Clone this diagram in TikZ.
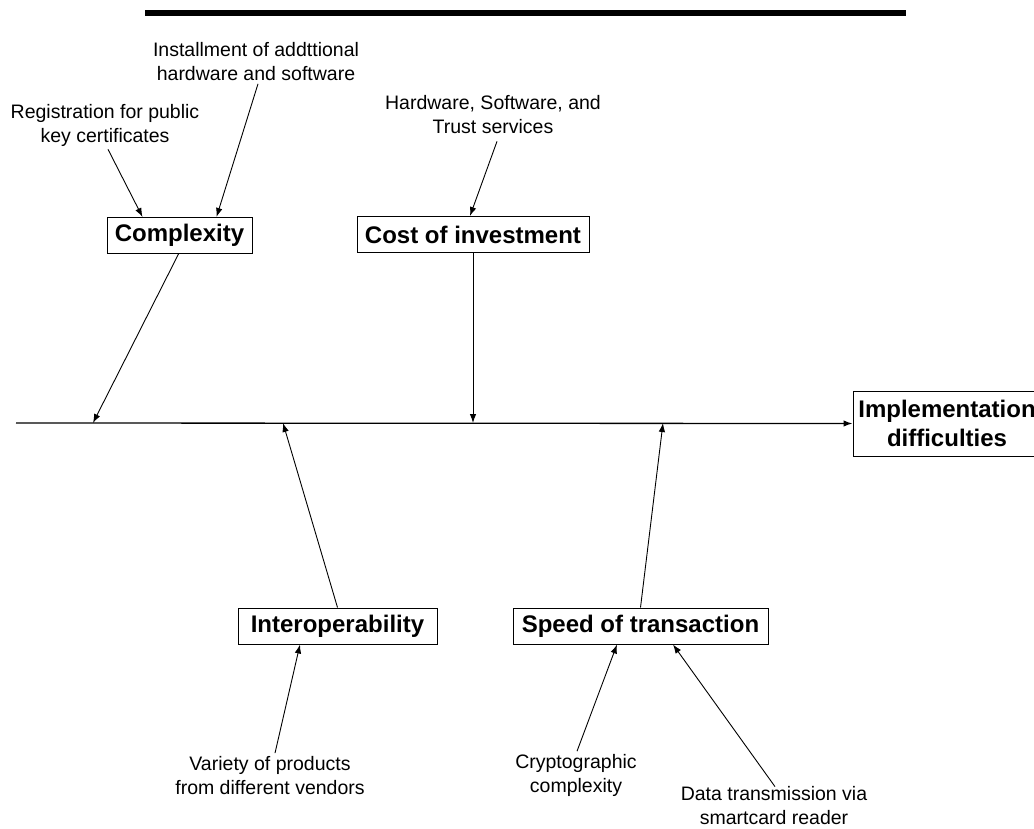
\documentclass[tikz,border=0pt]{standalone}
\usepackage{fontspec}
\setmainfont{Liberation Sans}
\usetikzlibrary{arrows.meta}

\begin{document}
\begin{tikzpicture}[
  x=1pt, y=-1pt,
  cause/.style={draw, fill=white, line width=1pt, minimum height=36pt, inner sep=0pt, text centered, font=\fontsize{24}{29}\selectfont\bfseries},
  effect/.style={draw, fill=white, line width=1pt, minimum width=188pt, minimum height=65pt, inner sep=0pt, align=center, font=\fontsize{24}{29}\selectfont\bfseries},
  detail/.style={align=center, inner sep=3pt, font=\fontsize{19.5}{24}\selectfont},
  feed/.style={-{Latex[length=9pt,width=6.5pt]}, line width=0.9pt}
]
\useasboundingbox (0,0) rectangle (1034,829);

% heading rule
\draw[line width=6pt] (145,13.5) -- (906,13.5);

% spine
\coordinate (tail) at (16,423);
\coordinate (s1) at (93,423);
\coordinate (s2) at (283,423);
\coordinate (s3) at (473,423);
\coordinate (s4) at (663,423);
\node[effect] (impl) at (947,423.5) {Implementation\\difficulties};
\draw[feed, line width=1.3pt] (tail) -- (impl.west);

% causes
\node[cause, minimum width=145pt] (cplx) at (179.5,235.5) {Complexity};
\node[cause, minimum width=232pt] (cost) at (473,234.5) {Cost of investment};
\node[cause, minimum width=199pt] (interop) at (337.5,626) {Interoperability};
\node[cause, minimum width=255pt] (speed) at (640.5,626) {Speed of transaction};

\draw[feed] ([xshift=-1pt]cplx.south) -- (s1);
\draw[feed] (cost.south) -- (s3);
\draw[feed] (interop.north) -- (s2);
\draw[feed] (speed.north) -- (s4);

% details
\node[detail] (reg) at (105,125) {Registration for public\\key certificates};
\node[detail] (inst) at (256,61.5) {Installment of addttional\\hardware and software};
\node[detail] (hw) at (493,115) {Hardware, Software, and\\Trust services};
\node[detail] (variety) at (270,775.5) {Variety of products\\from different vendors};
\node[detail] (crypto) at (576,775.5) {Cryptographic\\complexity};
\node[detail] (data) at (774,806) {Data transmission via\\smartcard reader};

\draw[feed] ([xshift=3pt]reg.south) -- ([xshift=-37pt]cplx.north);
\draw[feed] ([xshift=2pt]inst.south) -- ([xshift=37pt]cplx.north);
\draw[feed] ([xshift=4pt,yshift=-4pt]hw.south) -- ([xshift=-3pt]cost.north);
\draw[feed] ([xshift=5pt]variety.north) -- ([xshift=-37.5pt]interop.south);
\draw[feed] ([xshift=1pt]crypto.north) -- ([xshift=-23.5pt]speed.south);
\draw[feed] ([xshift=1pt,yshift=-3pt]data.north) -- ([xshift=32.5pt]speed.south);

\end{tikzpicture}
\end{document}
